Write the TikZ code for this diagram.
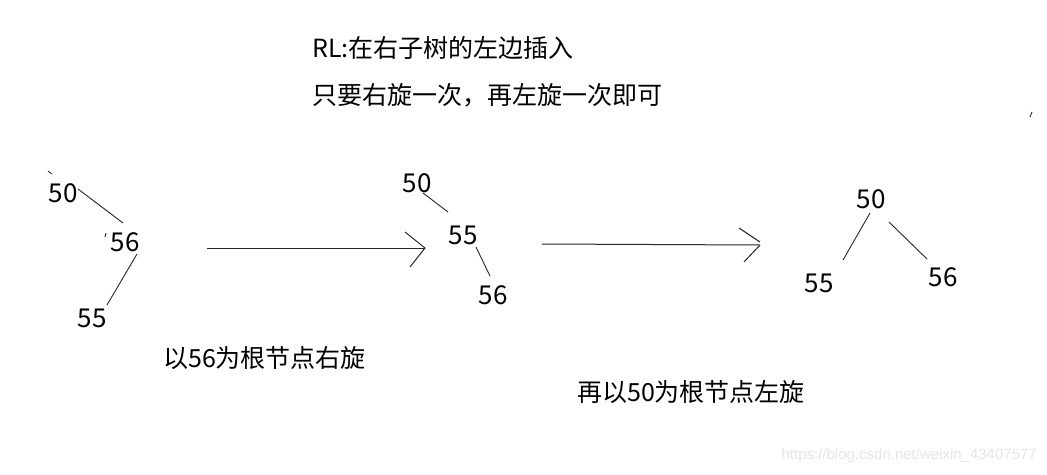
\documentclass[tikz,border=0pt]{standalone}
\usepackage{fontspec}
\setmainfont{Noto Sans CJK SC}
\newfontfamily\wmfont{Liberation Sans}
\usepackage{tikz}

\tikzset{
  num/.style={font=\fontsize{26}{30}\selectfont, inner sep=0pt},
  testo/.style={font=\fontsize{25}{30}\selectfont, inner sep=0pt, anchor=west},
  ramo/.style={line width=0.9pt, black!85},
  freccia/.style={line width=1pt, black!85},
}

\begin{document}
\begin{tikzpicture}[x=1pt, y=-1pt]
    \useasboundingbox (0,0) rectangle (1047,474);
    % testo in alto
    \node[testo] (titolo) at (312,48) {RL:在右子树的左边插入};
    \node[testo] (nota) at (312,95) {只要右旋一次，再左旋一次即可};
    % primo albero
    \node[num] (A50) at (63,193) {50};
    \node[num] (A56) at (125,242) {56};
    \node[num] (A55) at (92,318) {55};
    \coordinate (a1) at (78,189);  \coordinate (a2) at (123,223);
    \coordinate (a3) at (137,254); \coordinate (a4) at (107,305);
    \draw[ramo] (a1) -- (a2);
    \draw[ramo] (a3) -- (a4);
    \draw[ramo] (48,171) -- (52,174);
    \draw[ramo] (106,233) -- (105,237);
    % prima freccia
    \coordinate (f1) at (207,248); \coordinate (f2) at (425,248);
    \draw[freccia] (f1) -- (f2);
    \draw[freccia] (405,232) -- (f2) -- (410,267);
    \node[testo] (rot1) at (163,358) {以56为根节点右旋};
    % secondo albero
    \node[num] (B50) at (417,183) {50};
    \node[num] (B55) at (463,235) {55};
    \node[num] (B56) at (493,295) {56};
    \coordinate (b1) at (423,193); \coordinate (b2) at (448,212);
    \coordinate (b3) at (476,247); \coordinate (b4) at (490,276);
    \draw[ramo] (b1) -- (b2);
    \draw[ramo] (b3) -- (b4);
    % seconda freccia
    \coordinate (g1) at (542,244); \coordinate (g2) at (760,245);
    \draw[freccia] (g1) -- (g2);
    \draw[freccia] (739,228) -- (760,242);
    \draw[freccia] (g2) -- (744,262);
    \node[testo] (rot2) at (577,392) {再以50为根节点左旋};
    % terzo albero
    \node[num] (C50) at (871,199) {50};
    \node[num] (C55) at (819,283) {55};
    \node[num] (C56) at (943,277) {56};
    \coordinate (c1) at (870,213); \coordinate (c2) at (843,260);
    \coordinate (c3) at (889,222); \coordinate (c4) at (927,259);
    \draw[ramo] (c1) -- (c2);
    \draw[ramo] (c3) -- (c4);
    \draw[ramo] (1032,112) -- (1030,117);
    % filigrana
    \node[anchor=east, inner sep=0pt, text=black!10, font=\wmfont\fontsize{15}{18}\selectfont] (wm) at (1037,456) {https://blog.csdn.net/weixin\_43407577};
\end{tikzpicture}
\end{document}
